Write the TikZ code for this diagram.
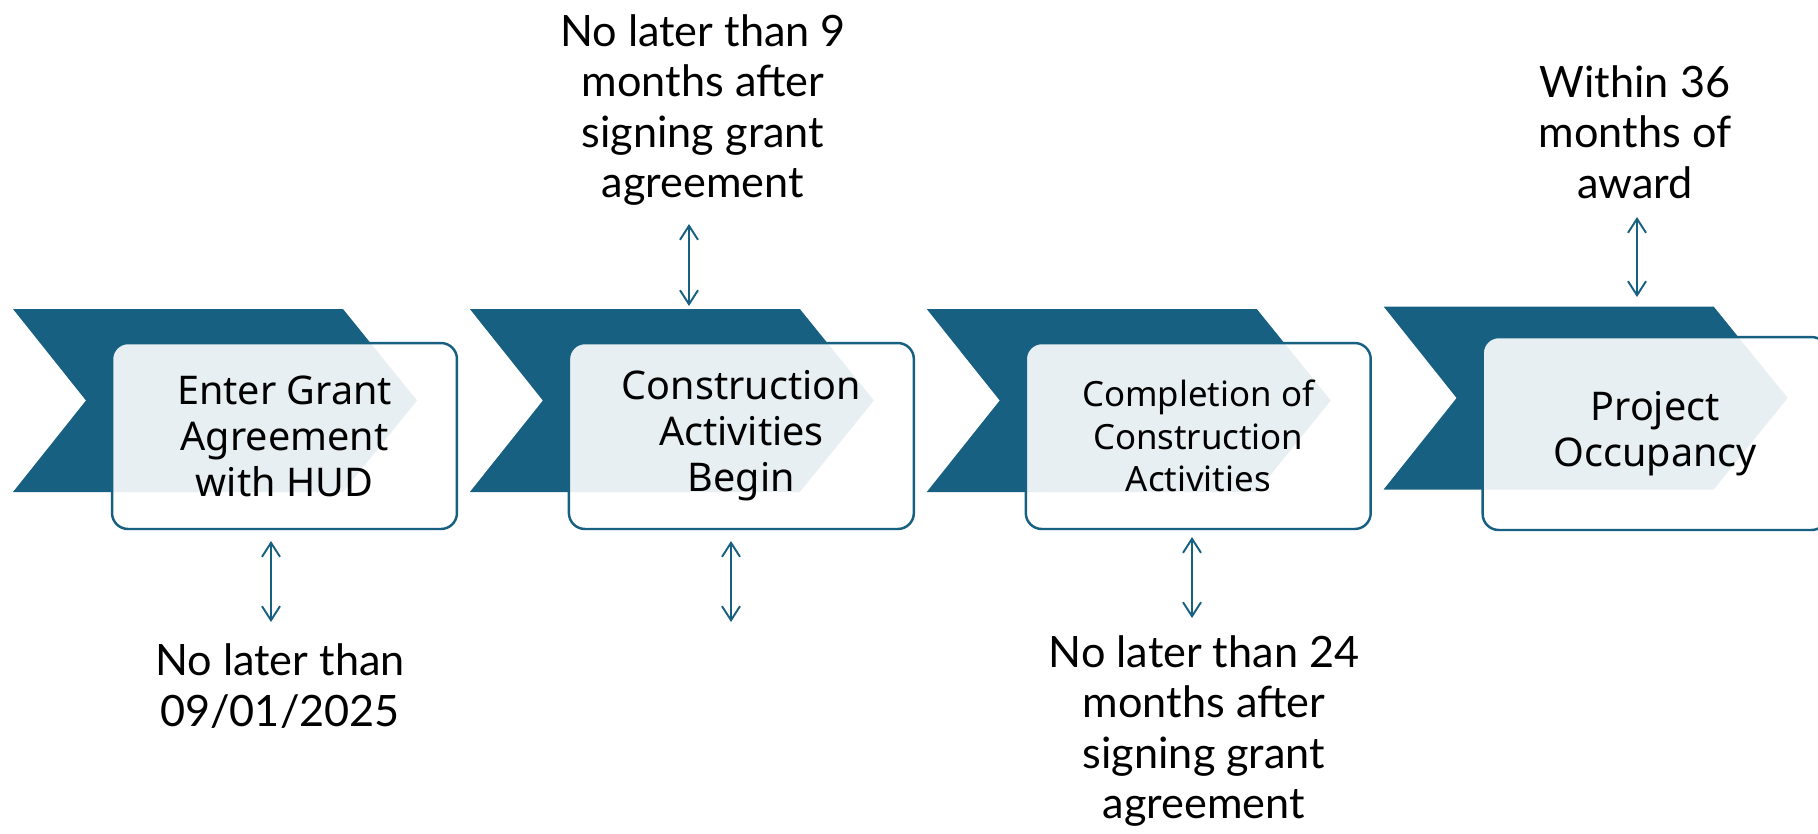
\documentclass[tikz,border=0pt]{standalone}
\usepackage{fontspec}
\newfontfamily\stepfont{Noto Sans}
\newfontfamily\notefont{Lato}
\usetikzlibrary{arrows.meta,positioning}
\definecolor{hudblue}{RGB}{24,96,130}

\begin{document}
\begin{tikzpicture}[x=0.02cm,y=-0.02cm,node distance=2.19cm,
                    tick/.style={<->,>={Straight Barb[length=0.28cm,width=0.36cm]},draw=hudblue,line width=1.1pt}]
	  \tikzstyle{chev}=[fill=hudblue]
	  \tikzstyle{stage}=[draw=hudblue,line width=1.4pt,rounded corners=0.32cm,fill=white,fill opacity=0.9,text opacity=1,
	                     minimum width=6.9cm,minimum height=3.72cm,align=center,font=\stepfont\fontsize{22.5}{26.2}\selectfont]
	  \tikzstyle{note}=[align=center,font=\notefont\fontsize{24.6}{28.8}\selectfont]

	  \useasboundingbox (0,0) rectangle (1818,833);
	  \clip (0,0) rectangle (1818,833);

	  % boxes (placed first, drawn over the chevrons below)
	  \path node[stage, draw=none, fill=none] (box1) at (284.5,436) {}
	        node[stage, draw=none, fill=none] (box2) [right=of box1] {}
	        node[stage, draw=none, fill=none] (box3) [right=of box2] {}
	        node[stage, draw=none, fill=none] (box4) [right=of box3, yshift=0.05cm] {};

	  % chevrons
	  \path[chev, shift={(box1.center)}] (-271.5,-127) -- (58.5,-127) -- (132.5,-35.5) -- (58.5,56) -- (-271.5,56) -- (-198.5,-35.5) -- cycle;
	  \path[chev, shift={(box2.center)}] (-271.5,-127) -- (58.5,-127) -- (132.5,-35.5) -- (58.5,56) -- (-271.5,56) -- (-198.5,-35.5) -- cycle;
	  \path[chev, shift={(box3.center)}] (-271.5,-127) -- (58.5,-127) -- (132.5,-35.5) -- (58.5,56) -- (-271.5,56) -- (-198.5,-35.5) -- cycle;
	  \path[chev, shift={(box4.center)}] (-271.5,-127) -- (58.5,-127) -- (132.5,-35.5) -- (58.5,56) -- (-271.5,56) -- (-198.5,-35.5) -- cycle;

	  \node[stage] at (box1) {Enter Grant\\Agreement\\with HUD};
	  \node[stage] at (box2) {Construction\\Activities\\Begin};
	  \node[stage, font=\stepfont\fontsize{19.8}{24.2}\selectfont] at (box3) {Completion of\\Construction\\Activities};
	  \node[stage, minimum height=3.86cm] at (box4) {Project\\Occupancy};

	  % deadlines
	  \node[note] (due1) at (280,686) {No later than\\09/01/2025};
	  \node[note] (due2) at (703,110) {No later than 9\\months after\\signing grant\\agreement};
	  \node[note] (due3) at (1204,731) {No later than 24\\months after\\signing grant\\agreement};
	  \node[note] (due4) at (1635,132) {Within 36\\months of\\award};

	  \coordinate (t1a) at (271,541);  \coordinate (t1b) at (271,622);
	  \coordinate (t2a) at (689,224);  \coordinate (t2b) at (689,306);
	  \coordinate (t5a) at (731,541);  \coordinate (t5b) at (731,622);
	  \coordinate (t3a) at (1192,537); \coordinate (t3b) at (1192,618);
	  \coordinate (t4a) at (1637,217); \coordinate (t4b) at (1637,297);

	  \draw[tick] (t1a) -- (t1b);
	  \draw[tick] (t2a) -- (t2b);
	  \draw[tick] (t5a) -- (t5b);
	  \draw[tick] (t3a) -- (t3b);
	  \draw[tick] (t4a) -- (t4b);
\end{tikzpicture}
\end{document}
